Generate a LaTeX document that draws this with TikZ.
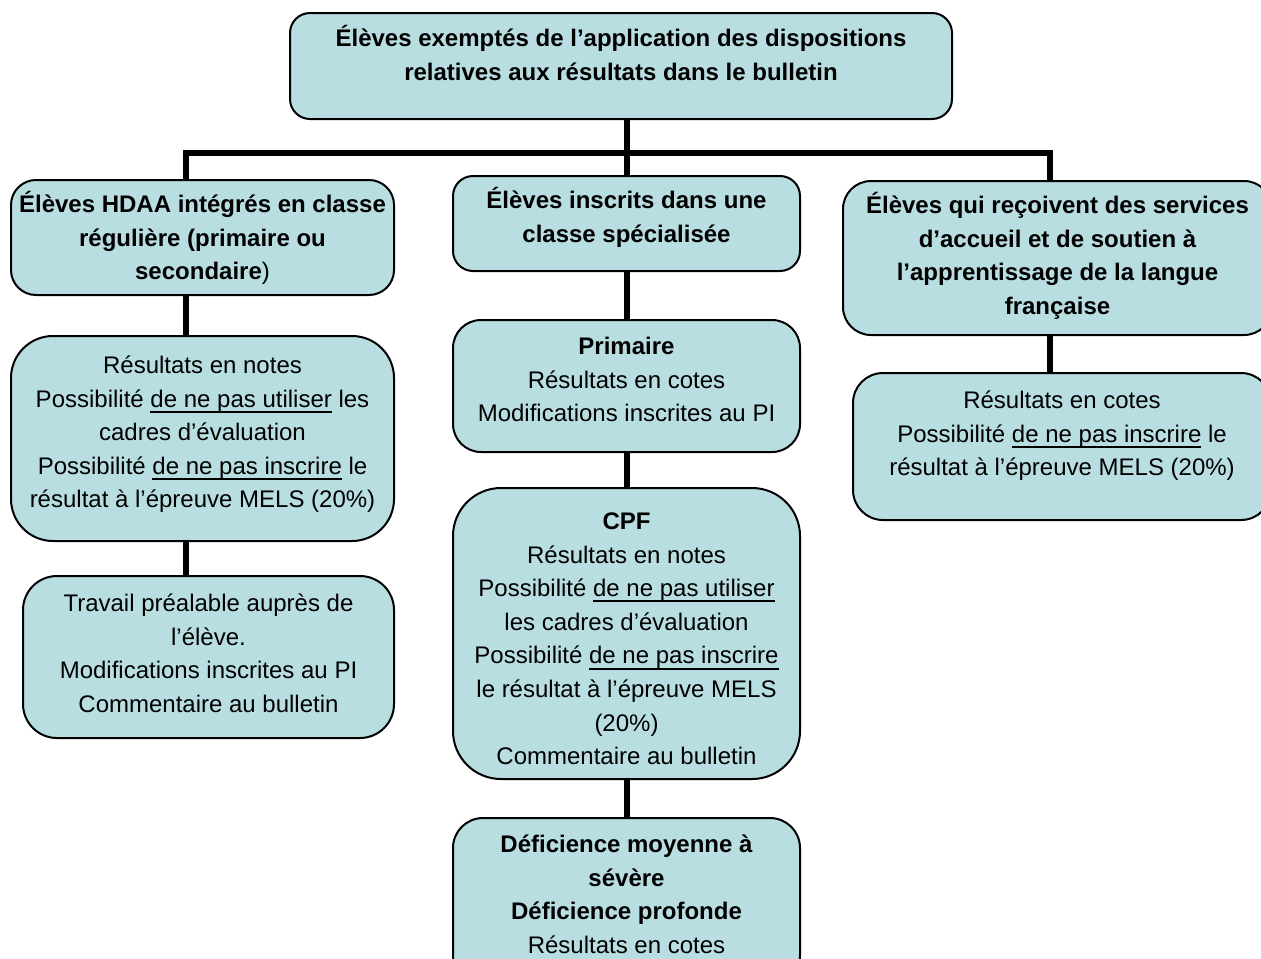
\documentclass[tikz,border=0pt]{standalone}
\usepackage{fontspec}
\setmainfont{Liberation Sans}
\definecolor{boxfill}{RGB}{185,222,226}
\newsavebox\ulbox
\newcommand{\ulx}[1]{\sbox\ulbox{#1}\rlap{\rule[-2.9pt]{\wd\ulbox}{1pt}}\usebox\ulbox}
\tikzset{
  box/.style={draw=black, line width=1pt, fill=boxfill, inner sep=0pt},
  txt/.style={anchor=north, inner sep=0pt, align=center, font=\fontsize{12}{16.8}\selectfont},
  link/.style={line width=3pt, draw=black, line join=miter}
}
\begin{document}
\begin{tikzpicture}[x=0.5pt, y=-0.5pt]
\useasboundingbox (0,0) rectangle (1261,958);
\clip (0,0) rectangle (1261,958);
% boxes
\node[box, minimum width=331pt, minimum height=53pt, rounded corners=10pt] (top) at (621,66) {};
\node[box, minimum width=191.5pt, minimum height=57.5pt, rounded corners=12.5pt] (left1) at (202.5,237.5) {};
\node[box, minimum width=173.5pt, minimum height=47.5pt, rounded corners=10pt] (mid1) at (626.5,223.5) {};
\node[box, minimum width=214.5pt, minimum height=77pt, rounded corners=14pt] (right1) at (1057.5,258) {};
\node[box, minimum width=191.5pt, minimum height=102.5pt, rounded corners=21pt] (left2) at (202.5,438.5) {};
\node[box, minimum width=185.5pt, minimum height=81pt, rounded corners=17pt] (left3) at (208.5,657) {};
\node[box, minimum width=173.5pt, minimum height=66pt, rounded corners=14pt] (mid2) at (626.5,386) {};
\node[box, minimum width=173.5pt, minimum height=145.5pt, rounded corners=24pt] (cpf) at (626.5,633.5) {};
\node[box, minimum width=173.5pt, minimum height=83.5pt, rounded corners=15pt] (bot) at (626.5,901.5) {};
\node[box, minimum width=209pt, minimum height=73.5pt, rounded corners=15pt] (right2) at (1062,446.5) {};
% texts
\node[txt] (ttop) at (621,22.5) {\strut\textbf{Élèves exemptés de l’application des dispositions}\\\textbf{relatives aux résultats dans le bulletin}};
\node[txt] (tleft1) at (202.5,188.5) {\strut\textbf{Élèves HDAA intégrés en classe}\\\textbf{régulière (primaire ou}\\\textbf{secondaire})};
\node[txt] (tmid1) at (626.5,184.5) {\strut\textbf{Élèves inscrits dans une}\\\textbf{classe spécialisée}};
\node[txt] (tright1) at (1057.5,189.5) {\strut\textbf{Élèves qui reçoivent des services}\\\textbf{d’accueil et de soutien à}\\\textbf{l’apprentissage de la langue}\\\textbf{française}};
\node[txt] (tleft2) at (202.5,349.5) {\strut Résultats en notes\\Possibilité \ulx{de ne pas utiliser} les\\cadres d’évaluation\\Possibilité \ulx{de ne pas inscrire} le\\résultat à l’épreuve MELS (20\%)};
\node[txt] (tleft3) at (208.5,587.5) {\strut Travail préalable auprès de\\l’élève.\\Modifications inscrites au PI\\Commentaire au bulletin};
\node[txt] (tmid2) at (626.5,330.5) {\strut\textbf{Primaire}\\Résultats en cotes\\Modifications inscrites au PI};
\node[txt] (tcpf) at (626.5,505.5) {\strut\textbf{CPF}\\Résultats en notes\\Possibilité \ulx{de ne pas utiliser}\\les cadres d’évaluation\\Possibilité \ulx{de ne pas inscrire}\\le résultat à l’épreuve MELS\\(20\%)\\Commentaire au bulletin};
\node[txt] (tbot) at (626.5,828.5) {\strut\textbf{Déficience moyenne à}\\\textbf{sévère}\\\textbf{Déficience profonde}\\Résultats en cotes};
\node[txt] (tright2) at (1062,384.5) {\strut Résultats en cotes\\Possibilité \ulx{de ne pas inscrire} le\\résultat à l’épreuve MELS (20\%)};
% connectors
\coordinate (busL) at (186,153);
\coordinate (busR) at (1050,153);
\draw[link] (busL |- left1.north) -- (busL) -- (busR) -- (busR |- right1.north);
\draw[link] (mid1.north |- top.south) -- (mid1.north);
\draw[link] (busL |- left1.south) -- (busL |- left2.north);
\draw[link] (busL |- left2.south) -- (busL |- left3.north);
\draw[link] (mid1.south) -- (mid2.north);
\draw[link] (mid2.south) -- (cpf.north);
\draw[link] (cpf.south) -- (bot.north);
\draw[link] (busR |- right1.south) -- (busR |- right2.north);
\end{tikzpicture}
\end{document}
